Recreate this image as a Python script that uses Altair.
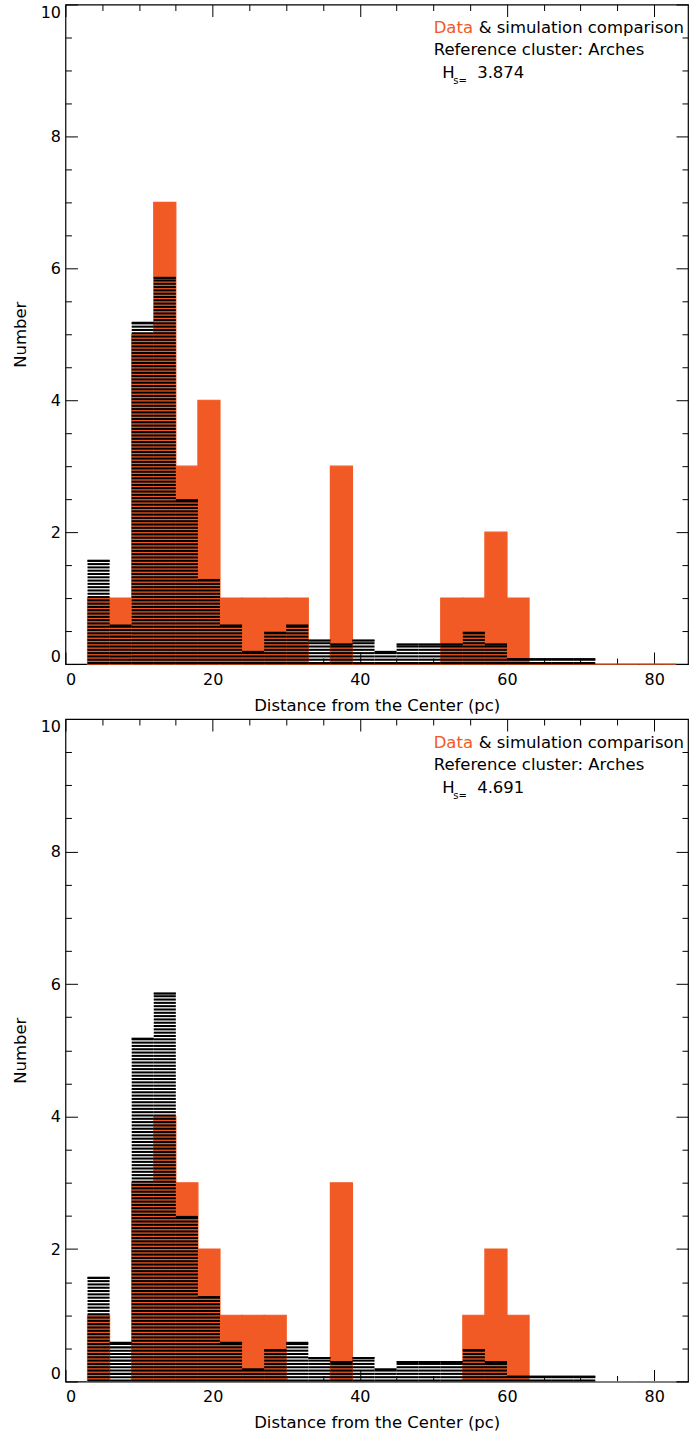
import altair as alt
import pandas as pd

# ---------------- data ----------------
BIN_LEFT = [3, 6, 9, 12, 15, 18, 21, 24, 27, 30, 33, 36, 39, 42, 45, 48, 51, 54,
            57, 60, 63, 66, 69, 72, 75, 78, 81]
BIN_WIDTH = 3
DATA_MAX = 83

DATA_TOP = [1, 1, 5, 7, 3, 4, 1, 1, 1, 1, 0, 3, 0, 0, 0, 0, 1, 1,
            2, 1, 0, 0, 0, 0, 0, 0, 0]
DATA_BOTTOM = [1, 0, 3, 4, 3, 2, 1, 1, 1, 0, 0, 3, 0, 0, 0, 0, 0, 1,
               2, 1, 0, 0, 0, 0, 0, 0, 0]
SIM = [1.58, 0.6, 5.19, 5.87, 2.5, 1.29, 0.6, 0.2, 0.49, 0.6, 0.37, 0.31, 0.37,
       0.2, 0.31, 0.31, 0.31, 0.49, 0.31, 0.09, 0.09, 0.09, 0.09, 0, 0, 0, 0]

HS_VALUES = ["3.874", "4.691"]
X_TICKS = [0, 5, 10, 15, 20, 25, 30, 35, 40, 45, 50, 55, 60, 65, 70, 75, 80]
Y_TICKS = [0, 0.5, 1, 1.5, 2, 2.5, 3, 3.5, 4, 4.5, 5, 5.5, 6, 6.5, 7, 7.5,
           8, 8.5, 9, 9.5, 10]
X_DOMAIN = [0, 84.6]
Y_DOMAIN = [0, 10]

X_TITLE = "Distance from the Center (pc)"
Y_TITLE = "Number"
LINE1_A = "Data"
LINE1_B = "& simulation comparison"
LINE2 = "Reference cluster: Arches"

# ---------------- style ----------------
ORANGE = "#F15A24"
FONT = "DejaVu Sans"
W = 623
STRIPE_STEP = 0.05
STRIPE_LINE = 0.031


def x_tick_size():
    return {"condition": {"test": "datum.value % 20 === 0", "value": -12}, "value": -6}


def y_tick_size():
    return {"condition": {"test": "datum.value % 2 === 0", "value": -12}, "value": -6}


def panel(data_vals, hs, height):
    df = pd.DataFrame({"x": BIN_LEFT, "data": data_vals, "sim": SIM})
    base = alt.Chart(df)
    xs = alt.Scale(domain=X_DOMAIN, nice=False, zero=False)
    ys = alt.Scale(domain=Y_DOMAIN, nice=False, zero=False)

    x_axis = alt.Axis(orient="bottom", values=X_TICKS,
                      labelExpr="datum.value % 20 === 0 ? format(datum.value, 'd') : ''",
                      tickSize=x_tick_size(), labelPadding=19, labelOverlap=False,
                      title=X_TITLE, titlePadding=4, domain=False, grid=False)
    y_axis = alt.Axis(orient="left", values=Y_TICKS,
                      labelExpr="datum.value % 2 === 0 ? format(datum.value, 'd') : ''",
                      tickSize=y_tick_size(), labelPadding=17, labelOverlap=False,
                      labelFlush=True, title=Y_TITLE, titlePadding=11.5,
                      domain=False, grid=False)
    x_axis_top = alt.Axis(orient="top", values=X_TICKS, labels=False,
                          tickSize=x_tick_size(), title=None, domain=False, grid=False)
    y_axis_right = alt.Axis(orient="right", values=Y_TICKS, labels=False,
                            tickSize=y_tick_size(), title=None, domain=False, grid=False)

    orange = base.transform_calculate(
        x2=f"min(datum.x + {BIN_WIDTH}, {DATA_MAX})", zero="0"
    ).mark_rect(color=ORANGE, stroke=ORANGE, strokeWidth=1.2).encode(
        x=alt.X("x:Q", scale=xs, axis=x_axis),
        x2="x2:Q",
        y=alt.Y("data:Q", scale=ys, axis=y_axis),
        y2="zero:Q",
    )

    stripes = base.transform_filter("datum.sim > 0").transform_calculate(
        s=f"sequence(0, datum.sim, {STRIPE_STEP})"
    ).transform_flatten(["s"]).transform_calculate(
        x2=f"datum.x + {BIN_WIDTH}",
        s2=f"min(datum.s + {STRIPE_LINE}, datum.sim)",
    ).mark_rect(color="black").encode(
        x=alt.X("x:Q", scale=xs, axis=None),
        x2="x2:Q",
        y=alt.Y("s:Q", scale=ys, axis=None),
        y2="s2:Q",
    )

    cap = base.transform_filter("datum.sim > 0").transform_calculate(
        x2=f"datum.x + {BIN_WIDTH}",
        c2=f"max(datum.sim - {STRIPE_LINE}, 0)",
    ).mark_rect(color="black").encode(
        x=alt.X("x:Q", scale=xs, axis=x_axis_top),
        x2="x2:Q",
        y=alt.Y("sim:Q", scale=ys, axis=y_axis_right),
        y2="c2:Q",
    )

    def txt(s, x, y, size=16.5, color="black"):
        return alt.Chart(pd.DataFrame({"t": [s]})).mark_text(
            align="left", baseline="middle", font=FONT, fontSize=size, color=color
        ).encode(text="t:N", x=alt.value(x), y=alt.value(y))

    texts = [
        txt(LINE1_A, 368.5, 24, color=ORANGE),
        txt(LINE1_B, 413.5, 24),
        txt(LINE2, 368.5, 46),
        txt("H", 377, 69),
        txt("s=", 388, 77, size=10),
        txt(hs, 412, 69),
    ]

    return alt.layer(orange, stripes, cap, *texts).resolve_axis(
        x="independent", y="independent"
    ).properties(width=W, height=height)


p1 = panel(DATA_TOP, HS_VALUES[0], 660)
p2 = panel(DATA_BOTTOM, HS_VALUES[1], 663)

chart = alt.vconcat(p1, p2, spacing=55, bounds="flush").properties(
    padding={"left": 11.5, "top": 2, "right": 4, "bottom": 0}
).configure_view(stroke="black", strokeWidth=1.2).configure_axis(
    labelFont=FONT, labelFontSize=16, labelColor="black",
    titleFont=FONT, titleFontSize=16.5, titleFontWeight="normal", titleColor="black",
    tickColor="black", tickWidth=1, minExtent=0,
)

chart.save("out.html", embed_options={"renderer": "svg", "actions": False})
